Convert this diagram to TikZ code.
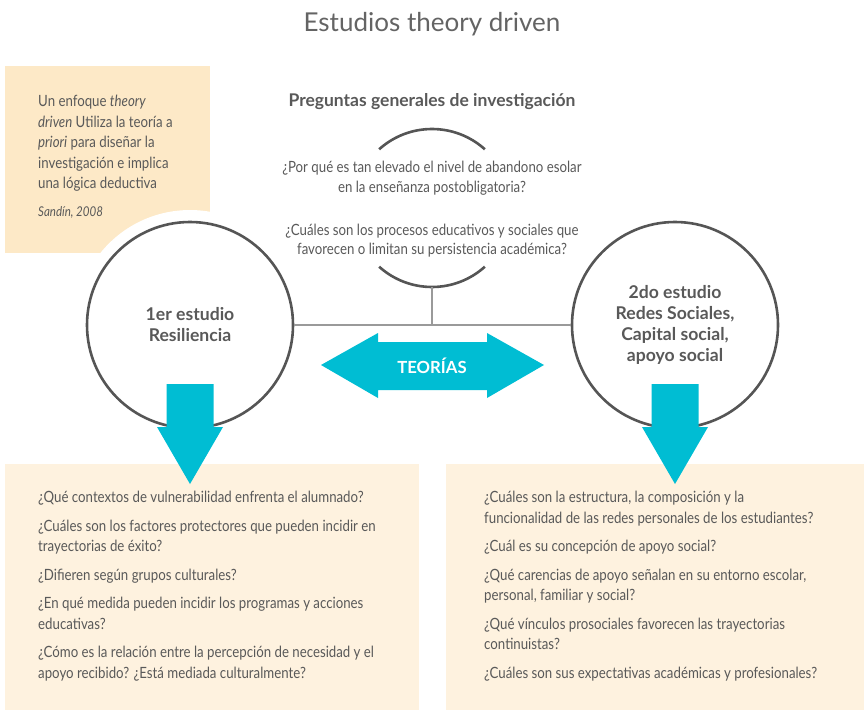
\documentclass[tikz,border=0pt]{standalone}
\usepackage{fontspec}
\setmainfont{Lato}
\newfontfamily\condfont{Lato}[FakeStretch=0.855]
\usepackage{tikz}
\usetikzlibrary{positioning}
\definecolor{txtgray}{HTML}{595959}
\definecolor{titlegray}{HTML}{646464}
\definecolor{circgray}{HTML}{555555}
\definecolor{linegray}{HTML}{9A9A9A}
\definecolor{peachdark}{HTML}{FDE9C7}
\definecolor{peachlight}{HTML}{FEF2DF}
\definecolor{teocyan}{HTML}{00BDD3}

\begin{document}
\begin{tikzpicture}[x=1pt, y=-1pt,
	txt/.style={text=txtgray, inner sep=0pt},
	question/.style={txt, font=\condfont\fontsize{15.5}{20.5}\selectfont, align=left, anchor=north west},
	study/.style={circle, draw=circgray, line width=2.6pt, minimum size=206pt, inner sep=0pt, align=center, text=txtgray, font=\bfseries\fontsize{17.6}{21}\selectfont},
	connector/.style={draw=linegray, line width=1.3pt},
	bigarrow/.style={fill=teocyan}]

% all positions are given in pixels of the 864 x 717 page, y grows downwards

\useasboundingbox (0,0) rectangle (864,717);

\def \rc{103} % radius of the study circles
\def \rh{115} % white ring round them
\def \ra{79}  % radius of the two arcs

\node[txt, text=titlegray, font=\fontsize{26}{30}\selectfont] (title) at (432,24) {Estudios theory driven};

% quote box
\fill[peachdark] (5,66) rectangle (210,253);
\node[question] (quote) at (38,95) {Un enfoque \textit{theory}\\\textit{driven} Utiliza la teoría a\\\textit{priori} para diseñar la\\investigación e implica\\una lógica deductiva};
\node[txt, anchor=base west, font=\condfont\itshape\fontsize{13.5}{16}\selectfont] (source) at (38,216) {Sandín, 2008};

% question boxes
\fill[peachlight] (5,464) rectangle (419,710);
\fill[peachlight] (446,464) rectangle (864,710);

\node[question] (quest1) at (38,491) {¿Qué contextos de vulnerabilidad enfrenta el alumnado?\\[8pt]
	¿Cuáles son los factores protectores que pueden incidir en\\trayectorias de éxito?\\[8pt]
	¿Difieren según grupos culturales?\\[8pt]
	¿En qué medida pueden incidir los programas y acciones\\educativas?\\[8pt]
	¿Cómo es la relación entre la percepción de necesidad y el\\apoyo recibido? ¿Está mediada culturalmente?};

\node[question] (quest2) at (484,491) {¿Cuáles son la estructura, la composición y la\\funcionalidad de las redes personales de los estudiantes?\\[8pt]
	¿Cuál es su concepción de apoyo social?\\[8pt]
	¿Qué carencias de apoyo señalan en su entorno escolar,\\personal, familiar y social?\\[8pt]
	¿Qué vínculos prosociales favorecen las trayectorias\\continuistas?\\[8pt]
	¿Cuáles son sus expectativas académicas y profesionales?};

% general questions
\node[txt, font=\bfseries\fontsize{17.5}{20}\selectfont] (general) at (432,102) {Preguntas generales de investigación};
\coordinate (pcenter) at (432,208);
\draw[circgray, line width=2.6pt] (pcenter) ++(-132:\ra) arc[start angle=-132, end angle=-48, radius=\ra]; % top arc
\draw[circgray, line width=2.6pt] (pcenter) ++(132:\ra) arc[start angle=132, end angle=48, radius=\ra]; % bottom arc
\coordinate (arcbot) at (432,287);
\node[question, anchor=north, align=center, font=\condfont\fontsize{15.5}{19.5}\selectfont] (general q) at (432,161) {¿Por qué es tan elevado el nivel de abandono esolar\\en la enseñanza postobligatoria?\\[23.5pt]
	¿Cuáles son los procesos educativos y sociales que\\favorecen o limitan su persistencia académica?};

% studies
\fill[white] (190,325) circle[radius=\rh];
\fill[white] (675,325) circle[radius=\rh];
\node[study] (est1) at (190,325) {1er estudio\\Resiliencia};
\node[study] (est2) at (675,325) {2do estudio\\Redes Sociales,\\Capital social,\\apoyo social};

\draw[connector] (est1.east) -- (est2.west);
\draw[connector] (arcbot) -- (arcbot |- est1.east);

% theories
\fill[bigarrow] (321,365) -- (378,333) -- (378,342) -- (487,342) -- (487,333) -- (544,365) -- (487,398) -- (487,390) -- (378,390) -- (378,398) -- cycle;
\node[txt, text=white, font=\bfseries\fontsize{16.7}{20}\selectfont] (teorias) at (432,366) {TEORÍAS};

% arrows down to the questions
\foreach \cx in {190, 675} {
	\fill[bigarrow] (\cx-23.5,384) -- (\cx+23.5,384) -- (\cx+23.5,427) -- (\cx+33,427) -- (\cx,484) -- (\cx-33,427) -- (\cx-23.5,427) -- cycle;
}

\end{tikzpicture}
\end{document}
